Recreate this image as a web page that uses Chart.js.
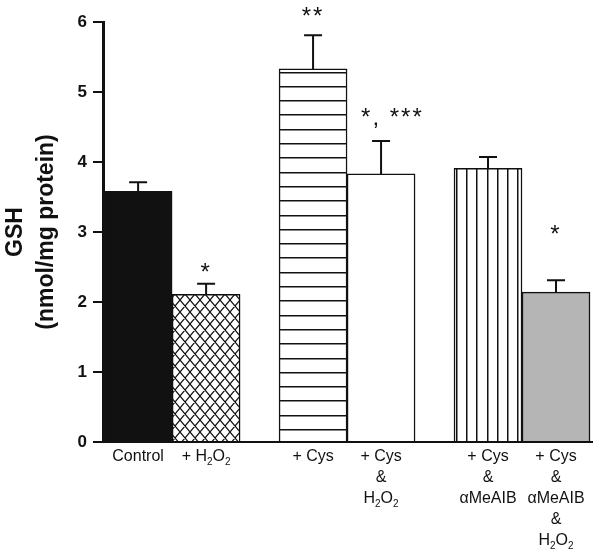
<!DOCTYPE html>
<html>
<head>
<meta charset="utf-8">
<script src="https://cdn.jsdelivr.net/npm/chart.js@4.4.0/dist/chart.umd.min.js"></script>
<style>
  html, body { margin: 0; padding: 0; background: #fff; }
  #wrap { width: 600px; height: 554px; }
</style>
</head>
<body>
<div id="wrap"><canvas id="gshChart"></canvas></div>
<script>
// GSH content, nmol/mg protein; each group without and with H2O2
const groups = ['Control', '+ Cys', '+ Cys & αMeAIB'];
const gshBase = [3.58, 5.33, 3.91];
const gshBaseErr = [0.13, 0.48, 0.16];
const gshH2O2 = [2.11, 3.83, 2.14];
const gshH2O2Err = [0.15, 0.47, 0.17];
const baseLabels = [['Control'], ['+ Cys'], ['+ Cys', '&', 'αMeAIB']];
const h2o2Labels = [['+ H₂O₂'], ['+ Cys', '&', 'H₂O₂'], ['+ Cys', '&', 'αMeAIB', '&', 'H₂O₂']];
const baseStars = ['', '**', ''];
const h2o2Stars = ['*', '*, ***', '*'];
const yTicks = [0, 1, 2, 3, 4, 5, 6];

const FONT = '"Liberation Sans", Arial, Helvetica, sans-serif';
const INK = '#111';

const canvasEl = document.getElementById('gshChart');
const mainCtx = canvasEl.getContext('2d');

// hatch fills for the bars
function hatch(kind) {
    const c = document.createElement('canvas');
    const g = c.getContext('2d');
    let shift = [0, 0];
    if (kind === 'cross') {
        const w = 10, h = 12;
        c.width = w; c.height = h;
        g.fillStyle = '#fff';
        g.fillRect(0, 0, w, h);
        g.strokeStyle = INK;
        g.lineWidth = 1.2;
        g.beginPath();
        for (const dx of [-w, 0, w]) {
            g.moveTo(dx, 0); g.lineTo(dx + w, h);
            g.moveTo(dx + w, 0); g.lineTo(dx, h);
        }
        g.stroke();
    } else if (kind === 'horiz') {
        c.width = 4; c.height = 143;
        g.fillStyle = '#fff';
        g.fillRect(0, 0, 4, 143);
        for (let i = 0; i < 10; i++) {
            const y = Math.round(i * 14.3);
            g.fillStyle = INK; g.fillRect(0, y, 4, 1);
            g.fillStyle = '#888'; g.fillRect(0, y + 1, 4, 1);
        }
    } else {
        c.width = 102; c.height = 4;
        g.fillStyle = '#fff';
        g.fillRect(0, 0, 102, 4);
        for (let i = 0; i < 10; i++) {
            const x = Math.round(i * 10.2);
            g.fillStyle = INK; g.fillRect(x, 0, 1, 4);
            g.fillStyle = '#888'; g.fillRect(x + 1, 0, 1, 4);
        }
        shift = [48, 0];
    }
    const p = mainCtx.createPattern(c, 'repeat');
    p.setTransform(new DOMMatrix().translate(shift[0], shift[1]));
    return p;
}

// text with subscript digits (H₂O₂)
function drawRich(ctx, text, cx, cy, size) {
    const subs = { '₀': '0', '₁': '1', '₂': '2', '₃': '3', '₄': '4' };
    const parts = [];
    for (const ch of text) {
        const sub = ch in subs;
        const t = sub ? subs[ch] : ch;
        const last = parts[parts.length - 1];
        if (last && last.sub === sub) last.t += t;
        else parts.push({ t, sub });
    }
    const normal = size + 'px ' + FONT;
    const small = Math.round(size * 0.62) + 'px ' + FONT;
    let total = 0;
    parts.forEach(p => {
        ctx.font = p.sub ? small : normal;
        p.w = ctx.measureText(p.t).width;
        total += p.w;
    });
    let x = cx - total / 2;
    ctx.textAlign = 'left';
    ctx.textBaseline = 'middle';
    parts.forEach(p => {
        ctx.font = p.sub ? small : normal;
        ctx.fillText(p.t, x, p.sub ? cy + size * 0.32 : cy);
        x += p.w;
    });
}

const barDecor = {
    id: 'barDecor',
    afterDatasetsDraw(chart) {
        const ctx = chart.ctx;
        const yScale = chart.scales.y;
        ctx.save();
        ctx.strokeStyle = INK;
        ctx.lineWidth = 2;
        chart.data.datasets.forEach((ds, di) => {
            chart.getDatasetMeta(di).data.forEach((bar, i) => {
                const top = yScale.getPixelForValue(ds.data[i].y + ds.errors[i]);
                ctx.beginPath();
                ctx.moveTo(bar.x, bar.y);
                ctx.lineTo(bar.x, top);
                ctx.moveTo(bar.x - 9, top);
                ctx.lineTo(bar.x + 9, top);
                ctx.stroke();
            });
        });
        ctx.restore();
    },
    afterDraw(chart, args, opts) {
        const ctx = chart.ctx;
        const yScale = chart.scales.y;
        const bottom = chart.chartArea.bottom;
        ctx.save();
        ctx.fillStyle = INK;
        chart.data.datasets.forEach((ds, di) => {
            chart.getDatasetMeta(di).data.forEach((bar, i) => {
                ds.barLabels[i].forEach((line, li) => {
                    drawRich(ctx, line, bar.x, bottom + 15 + li * 21, 16);
                });
            });
        });
        // significance marks
        ctx.font = opts.starSize + 'px ' + FONT;
        ctx.letterSpacing = '2px';
        ctx.textBaseline = 'alphabetic';
        const m = ctx.measureText('*');
        const lift = (m.actualBoundingBoxAscent - m.actualBoundingBoxDescent) / 2;
        opts.marks.forEach(mk => {
            const ds = chart.data.datasets[mk.dataset];
            const text = ds.stars[mk.index];
            if (!text) return;
            const bar = chart.getDatasetMeta(mk.dataset).data[mk.index];
            ctx.textAlign = mk.align || 'center';
            ctx.fillText(text, bar.x + (mk.dx || 0), yScale.getPixelForValue(mk.at) + lift);
        });
        ctx.restore();
    }
};

const config = {
    type: 'bar',
    data: {
        datasets: [{
            label: 'without H2O2',
            data: gshBase.map((v, i) => ({ x: i, y: v })),
            errors: gshBaseErr,
            barLabels: baseLabels,
            stars: baseStars,
            backgroundColor: [INK, hatch('horiz'), hatch('vert')],
            borderColor: INK,
            borderWidth: 1.5
        }, {
            label: 'with H2O2',
            data: gshH2O2.map((v, i) => ({ x: i, y: v })),
            errors: gshH2O2Err,
            barLabels: h2o2Labels,
            stars: h2o2Stars,
            backgroundColor: [hatch('cross'), '#fff', '#b5b5b5'],
            borderColor: INK,
            borderWidth: 1.5
        }]
    },
    options: {
        responsive: true,
        maintainAspectRatio: false,
        animation: false,
        barThickness: 68,
        layout: { padding: { top: 22, right: 8, left: 0, bottom: 0 } },
        plugins: {
            legend: { display: false },
            tooltip: { enabled: false },
            barDecor: {
                starSize: 24,
                marks: [
                    { dataset: 1, index: 0, at: 2.49 },
                    { dataset: 0, index: 1, at: 6.15 },
                    { dataset: 1, index: 1, at: 4.71, align: 'left', dx: -20 },
                    { dataset: 1, index: 2, at: 3.03 }
                ]
            }
        },
        scales: {
            x: {
                type: 'linear',
                min: -0.395,
                max: 2.4,
                offset: false,
                grid: { display: false },
                ticks: { display: false },
                border: { display: true, color: INK, width: 2 },
                afterFit: s => { s.height = 112; },
                z: 1
            },
            y: {
                min: 0,
                max: 6,
                afterBuildTicks: s => { s.ticks = yTicks.map(v => ({ value: v })); },
                ticks: { color: INK, padding: 6, font: { family: FONT, size: 17, weight: 'bold' } },
                grid: { display: true, drawOnChartArea: false, drawTicks: true, tickLength: 10, lineWidth: 2, color: INK },
                border: { display: true, color: INK, width: 3 },
                title: {
                    display: true,
                    text: ['GSH', '(nmol/mg protein)'],
                    color: INK,
                    font: { family: FONT, size: 23, weight: 'bold', lineHeight: 1.35 },
                    padding: { top: 0, bottom: 0 }
                },
                afterFit: s => { s.width = 103; },
                z: 1
            }
        }
    },
    plugins: [barDecor]
};

const gshChart = new Chart(canvasEl, config);
</script>
</body>
</html>
